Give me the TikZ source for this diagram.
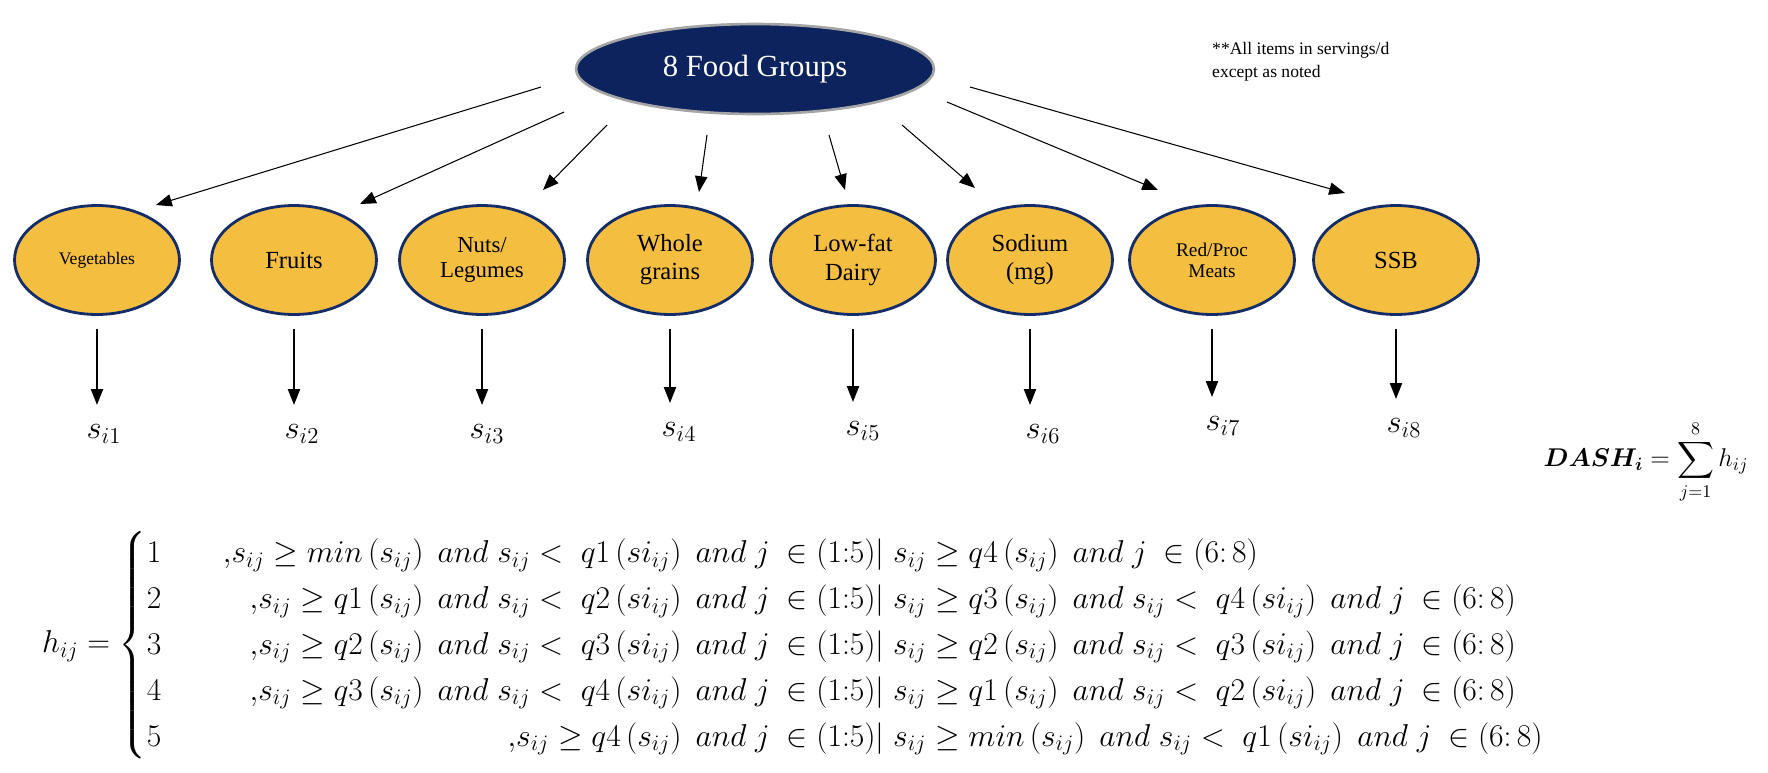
\documentclass[tikz,border=0pt]{standalone}
\usepackage{fix-cm}
\usepackage{amsmath,amssymb,bm}
\usepackage{fontspec}
\setmainfont{Liberation Serif}
\definecolor{DashNavy}{RGB}{12,35,94}
\definecolor{DashGold}{RGB}{244,190,64}
\definecolor{DashRim}{RGB}{20,45,105}
\definecolor{DashGray}{RGB}{165,165,165}
\usetikzlibrary{arrows.meta,shapes.geometric}
\newcommand{\qarg}[1]{\left(#1\right)}
\newcommand{\wand}{\;and\;}

\begin{document}
\begin{tikzpicture}[x=0.02cm,y=-0.02cm,
  group/.style={ellipse,draw=DashRim,line width=1.6pt,fill=DashGold,
    minimum width=3.3cm,minimum height=2.18cm,inner sep=0pt,align=center,
    font=\fontsize{14}{16}\selectfont},
  link/.style={-{Triangle[length=9pt,width=7pt]},line width=0.6pt},
  score/.style={font=\fontsize{18.5}{22}\selectfont,inner sep=0pt}]
\useasboundingbox (0,0) rectangle (1768,772);
% top node and note
\node[ellipse,draw=DashGray,line width=1.5pt,fill=DashNavy,text=white,
  minimum width=7.16cm,minimum height=1.8cm,
  font=\fontsize{17.5}{21}\selectfont] (top) at (755,69) {8 Food Groups};
\node[anchor=west,align=left,font=\fontsize{10}{13}\selectfont] (note) at (1206,62)
  {**All items in servings/d\\except as noted};
% food groups
\node[group,font=\fontsize{10}{12}\selectfont] (veg) at (97,260) {Vegetables};
\node[group] (fruit) at (294,260) {Fruits};
\node[group,font=\fontsize{13}{14.5}\selectfont] (nuts) at (482,260) {Nuts/\\Legumes};
\node[group] (grain) at (670,260) {Whole\\grains};
\node[group] (dairy) at (853,260) {Low-fat\\Dairy};
\node[group] (sodium) at (1030,260) {Sodium\\(mg)};
\node[group,font=\fontsize{11}{12}\selectfont] (meat) at (1212,260) {Red/Proc\\Meats};
\node[group] (ssb) at (1396,260) {SSB};
% arrows from the top node
\draw[link] ([shift={(-214,18)}]top.center) -- ([shift={(59,-55)}]veg.center);
\draw[link] ([shift={(-191,43)}]top.center) -- ([shift={(66,-56)}]fruit.center);
\draw[link] ([shift={(-148,56)}]top.center) -- ([shift={(61,-70)}]nuts.center);
\draw[link] ([shift={(-48,66)}]top.center) -- ([shift={(29,-68)}]grain.center);
\draw[link] ([shift={(74,66)}]top.center) -- ([shift={(-8,-70)}]dairy.center);
\draw[link] ([shift={(147,56)}]top.center) -- ([shift={(-55,-72)}]sodium.center);
\draw[link] ([shift={(192,33)}]top.center) -- ([shift={(-54,-70)}]meat.center);
\draw[link] ([shift={(215,18)}]top.center) -- ([shift={(-51,-67)}]ssb.center);
% scores
\node[score] (s1) at (104,434) {$s_{i1}$};
\node[score] (s2) at (302,434) {$s_{i2}$};
\node[score] (s3) at (487,434) {$s_{i3}$};
\node[score] (s4) at (679,432) {$s_{i4}$};
\node[score] (s5) at (863,431) {$s_{i5}$};
\node[score] (s6) at (1043,434) {$s_{i6}$};
\node[score] (s7) at (1223,426) {$s_{i7}$};
\node[score] (s8) at (1404,428) {$s_{i8}$};
\foreach \g/\n in {veg/1,fruit/2,nuts/3,grain/4,dairy/5,sodium/6,meat/7,ssb/8}
  \draw[link,shorten <=7.5pt,shorten >=11pt] (\g.south) -- (\g.south |- s\n.north);
% formulas
\node[font=\fontsize{14.6}{18}\selectfont] (dash) at (1646,462)
  {$\displaystyle \bm{DASH_i} = \sum_{j=1}^{8} h_{ij}$};
\node[anchor=west,font=\fontsize{18}{21.6}\selectfont] (hij) at (36,645)
  {\renewcommand{\arraystretch}{1.21}$h_{ij} = \left\{\begin{array}{@{}l@{\hspace{35pt}}r@{}l@{}}
  1 & {,}s_{ij} \geq min\qarg{s_{ij}} \wand s_{ij} <\; q1\qarg{si_{ij}} \wand j\ \in (1{:}5)|
    & \; s_{ij} \geq q4\qarg{s_{ij}} \wand j\ \in (6{:}\,8)\\
  2 & {,}s_{ij} \geq q1\qarg{s_{ij}} \wand s_{ij} <\; q2\qarg{si_{ij}} \wand j\ \in (1{:}5)|
    & \; s_{ij} \geq q3\qarg{s_{ij}} \wand s_{ij} <\; q4\qarg{si_{ij}} \wand j\ \in (6{:}\,8)\\
  3 & {,}s_{ij} \geq q2\qarg{s_{ij}} \wand s_{ij} <\; q3\qarg{si_{ij}} \wand j\ \in (1{:}5)|
    & \; s_{ij} \geq q2\qarg{s_{ij}} \wand s_{ij} <\; q3\qarg{si_{ij}} \wand j\ \in (6{:}\,8)\\
  4 & {,}s_{ij} \geq q3\qarg{s_{ij}} \wand s_{ij} <\; q4\qarg{si_{ij}} \wand j\ \in (1{:}5)|
    & \; s_{ij} \geq q1\qarg{s_{ij}} \wand s_{ij} <\; q2\qarg{si_{ij}} \wand j\ \in (6{:}\,8)\\
  5 & {,}s_{ij} \geq q4\qarg{s_{ij}} \wand j\ \in (1{:}5)|
    & \; s_{ij} \geq min\qarg{s_{ij}} \wand s_{ij} <\; q1\qarg{si_{ij}} \wand j\ \in (6{:}\,8)
  \end{array}\right.$};
\end{tikzpicture}
\end{document}
